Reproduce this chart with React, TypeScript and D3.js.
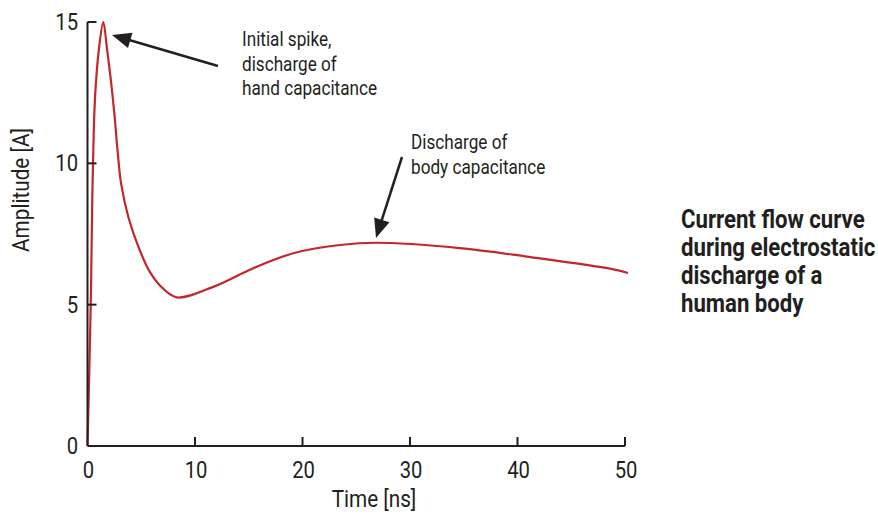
import React, { useEffect } from "react";
import * as d3 from "d3";

const timeNs = [0, 0.3, 0.45, 0.51, 0.63, 0.79, 1.07, 1.47, 1.81, 2.19, 2.51, 2.79, 3.12, 3.8, 4.73, 5.81, 6.74, 8.3, 11.7, 15.42, 19.14, 23.49, 26.84, 34.65, 40.86, 48.91, 50.28];
const amplitude = [0, 4.99, 8.88, 9.94, 11.71, 12.89, 14.07, 15.0, 14.07, 12.89, 11.71, 10.47, 9.3, 8.1, 7.05, 6.15, 5.68, 5.26, 5.63, 6.29, 6.82, 7.11, 7.19, 7.0, 6.7, 6.25, 6.12];
const xTicks = [0, 10, 20, 30, 40, 50];
const yTicks = [0, 5, 10, 15];
const annotation1 = ["Initial spike,", "discharge of", "hand capacitance"];
const annotation2 = ["Discharge of", "body capacitance"];
const titleLines = ["Current flow curve", "during electrostatic", "discharge of a", "human body"];

const FONT = "Roboto, 'Liberation Sans', sans-serif";
const INK = "#231f20";
const RED = "#c1272d";
const SX = 0.88;

function T({ x, y, children, size, anchor = "start", weight = "normal", rotate = 0, sx = SX }: any) {
  return (
    <text
      transform={`translate(${x},${y})${rotate ? ` rotate(${rotate})` : ""} scale(${sx},1)`}
      textAnchor={anchor}
      fontSize={size}
      fontWeight={weight}
      fill={INK}
    >
      {children}
    </text>
  );
}

function Arrow({ x1, y1, x2, y2 }: { x1: number; y1: number; x2: number; y2: number }) {
  const len = Math.hypot(x2 - x1, y2 - y1);
  const ux = (x2 - x1) / len, uy = (y2 - y1) / len;
  const hl = 19, hw = 8;
  const bx = x2 - ux * hl, by = y2 - uy * hl;
  const px = -uy, py = ux;
  return (
    <g>
      <line x1={x1} y1={y1} x2={bx + ux * 2} y2={by + uy * 2} stroke={INK} strokeWidth={2.5} />
      <polygon points={`${x2},${y2} ${bx + px * hw},${by + py * hw} ${bx - px * hw},${by - py * hw}`} fill={INK} />
    </g>
  );
}

export default function App() {
  useEffect(() => {
    document.body.style.margin = "0";
  }, []);
  const x = d3.scaleLinear().domain([0, 50]).range([87.5, 625]);
  const y = d3.scaleLinear().domain([0, 15]).range([446, 22]);
  const data = timeNs.map((t, i) => [t, amplitude[i]] as [number, number]);
  const line = d3.line<[number, number]>().x(d => x(d[0])).y(d => y(d[1])).curve(d3.curveCatmullRom.alpha(0.5));

  return (
    <svg width={878} height={514} style={{ display: "block", background: "#fff" }} fontFamily={FONT}>
      <path d={line(data) || ""} fill="none" stroke={RED} strokeWidth={2.2} />
      <line x1={x(0)} y1={y(0)} x2={x(50)} y2={y(0)} stroke={INK} strokeWidth={2} />
      <line x1={x(0)} y1={y(0)} x2={x(0)} y2={y(15)} stroke={INK} strokeWidth={2} />
      {xTicks.map(t => (
        <g key={"x" + t}>
          {t > 0 && <line x1={x(t)} y1={y(0)} x2={x(t)} y2={y(0) - 9} stroke={INK} strokeWidth={2} />}
          <T x={x(t) + 1} y={478} anchor="middle" size={23}>{t}</T>
        </g>
      ))}
      {yTicks.map(t => (
        <g key={"y" + t}>
          {t > 0 && <line x1={x(0)} y1={y(t)} x2={x(0) + 9} y2={y(t)} stroke={INK} strokeWidth={2} />}
          <T x={78} y={y(t) + 8} anchor="end" size={23}>{t}</T>
        </g>
      ))}
      <T x={374} y={507} anchor="middle" size={23} sx={0.9}>Time [ns]</T>
      <T x={29} y={190} anchor="middle" size={23} rotate={-90} sx={0.9}>Amplitude [A]</T>

      <Arrow x1={218} y1={66} x2={112} y2={35} />
      <Arrow x1={402} y1={157} x2={376} y2={238} />

      {annotation1.map((s, i) => (
        <T key={"a1" + i} x={242} y={46 + i * 24.5} size={19.5}>{s}</T>
      ))}
      {annotation2.map((s, i) => (
        <T key={"a2" + i} x={411} y={149 + i * 24.5} size={19.5}>{s}</T>
      ))}
      {titleLines.map((s, i) => (
        <T key={"t" + i} x={681} y={228 + i * 28} size={25.5} weight="bold" sx={0.87}>{s}</T>
      ))}
    </svg>
  );
}
